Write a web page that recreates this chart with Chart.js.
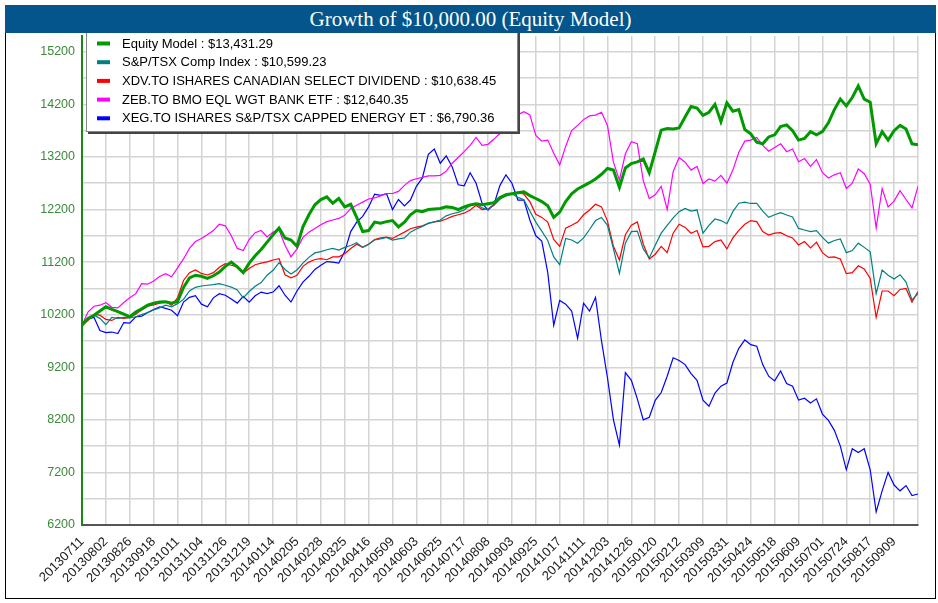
<!DOCTYPE html>
<html lang="en">
<head>
    <meta charset="UTF-8">
    <title>Growth of $10,000.00 (Equity Model)</title>
    <script src="https://cdn.jsdelivr.net/npm/chart.js"></script>
    <style>
        body {
            margin: 0;
            background: #fff;
            font-family: Arial, "Liberation Sans", sans-serif;
        }

        #wrap {
            position: relative;
            width: 938px;
            height: 603px;
        }

        /* thin black frame round the whole picture */
        #frame {
            position: absolute;
            left: 5px;
            top: 5px;
            width: 931px;
            height: 594px;
            border: 1px solid #000;
            border-top: none;
            box-sizing: border-box;
        }

        #title {
            position: absolute;
            left: 5px;
            top: 5px;
            width: 931px;
            height: 28px;
            background: #03558b;
            color: #fff;
            font-family: "Liberation Serif", "Times New Roman", serif;
            font-size: 21px;
            line-height: 28px;
            text-align: center;
            z-index: 2;
        }

        canvas {
            position: absolute;
            left: 0;
            top: 0;
        }
    </style>
</head>
<body>
    <div id="wrap">
        <canvas id="growth-chart" width="938" height="603"></canvas>
        <div id="frame"></div>
        <div id="title">Growth of $10,000.00 (Equity Model)</div>
    </div>

    <script>
        // one value every 4 trading days, starting 20130711
        const STEP = 4;
        const TICK_STEP = 16;

        const tickLabels = ['20130711', '20130802', '20130826', '20130918', '20131011', '20131104', '20131126',
            '20131219', '20140114', '20140205', '20140228', '20140325', '20140416', '20140509', '20140603',
            '20140625', '20140717', '20140808', '20140903', '20140925', '20141017', '20141111', '20141203',
            '20141226', '20150120', '20150212', '20150309', '20150331', '20150424', '20150518', '20150609',
            '20150701', '20150724', '20150817', '20150909'];

        const seriesNames = [
            'Equity Model : $13,431.29',
            'S&P/TSX Comp Index : $10,599.23',
            'XDV.TO ISHARES CANADIAN SELECT DIVIDEND : $10,638.45',
            'ZEB.TO BMO EQL WGT BANK ETF : $12,640.35',
            'XEG.TO ISHARES S&P/TSX CAPPED ENERGY ET : $6,790.36'
        ];

        const equityModel = [
            10000, 10130, 10190, 10270, 10350, 10300, 10260, 10210, 10160, 10250,
            10310, 10380, 10420, 10440, 10445, 10420, 10450, 10720, 10900, 10950,
            10930, 10890, 10940, 11010, 11120, 11200, 11110, 11000, 11180, 11320,
            11440, 11580, 11720, 11850, 11660, 11620, 11500, 11870, 12100, 12290,
            12390, 12440, 12320, 12410, 12250, 12300, 12050, 11780, 11800, 11960,
            11940, 11970, 11990, 11870, 11960, 12100, 12180, 12160, 12200, 12210,
            12220, 12250, 12240, 12200, 12250, 12285, 12310, 12290, 12310, 12330,
            12430, 12480, 12500, 12520, 12535, 12465, 12410, 12350, 12270, 12050,
            12150, 12350, 12500, 12590, 12650, 12710, 12780, 12870, 12980, 12950,
            12620, 12990, 13075, 13105, 13160, 12900, 13300, 13710, 13740, 13730,
            13750, 13960, 14160, 14130, 13990, 14050, 14200, 13870, 14230, 14070,
            14100, 13720, 13640, 13480, 13450, 13580, 13620, 13780, 13810, 13700,
            13520, 13550, 13680, 13620, 13680, 13850, 14100, 14300, 14170, 14330,
            14550, 14300, 14240, 13450, 13680, 13520, 13700, 13800, 13730, 13450,
            13431];

        const tsxComp = [
            10000, 10110, 10190, 10130, 10010, 10150, 10130, 10150, 10140, 10160,
            10200, 10240, 10290, 10330, 10380, 10350, 10410, 10490, 10650, 10720,
            10745, 10760, 10770, 10790, 10760, 10725, 10670, 10520, 10640, 10740,
            10810, 10950, 11045, 11190, 11060, 10975, 11050, 11180, 11290, 11375,
            11400, 11435, 11460, 11430, 11480, 11515, 11570, 11480, 11540, 11620,
            11640, 11670, 11620, 11640, 11660, 11770, 11830, 11880, 11940, 11965,
            12000, 12080, 12120, 12145, 12190, 12280, 12310, 12230, 12200, 12300,
            12400, 12460, 12500, 12430, 12385, 12170, 11960, 11790, 11610, 11300,
            11150, 11650, 11620, 11560, 11660, 11820, 11990, 12050, 11900, 11450,
            10985, 11560, 11780, 11790, 11450, 11280, 11520, 11750, 11900, 12040,
            12160, 12220, 12170, 12190, 11750, 11900, 12020, 11990, 11930, 12160,
            12320, 12340, 12315, 12315, 12170, 12050, 12100, 12140, 12095, 12060,
            11840, 11810, 11780, 11800, 11670, 11560, 11610, 11640, 11380, 11420,
            11560, 11480, 11395, 10600, 11050, 10950, 10880, 10960, 10820, 10480,
            10599];

        const xdv = [
            10000, 10090, 10200, 10190, 10110, 10090, 10150, 10130, 10150, 10210,
            10290, 10360, 10385, 10420, 10445, 10380, 10520, 10850, 11000, 11050,
            10985, 10955, 11000, 11100, 11170, 11140, 11110, 10990, 11080, 11150,
            11180, 11205, 11240, 11265, 10960, 10900, 10950, 11120, 11200, 11250,
            11265, 11245, 11300, 11300, 11360, 11460, 11540, 11480, 11540, 11630,
            11660, 11675, 11650, 11710, 11770, 11835, 11865, 11890, 11935, 11965,
            11980, 12020, 12070, 12100, 12130, 12190, 12280, 12200, 12210, 12280,
            12400, 12480, 12500, 12530, 12490, 12350, 12110, 12050, 11960, 11630,
            11500, 11845, 11900, 11960, 12100, 12190, 12300, 12250, 11980, 11500,
            11240, 11720, 11900, 11965, 11540, 11260, 11350, 11500, 11380, 11750,
            11920, 11860, 11750, 11800, 11490, 11500, 11590, 11620, 11450, 11660,
            11805, 11920, 11990, 11970, 11780, 11715, 11750, 11760, 11700, 11660,
            11525, 11590, 11470, 11580, 11380, 11290, 11300, 11260, 10980, 11000,
            11130, 11070, 10890, 10150, 10650, 10650, 10560, 10680, 10700, 10440,
            10638];

        const zeb = [
            10000, 10250, 10360, 10380, 10430, 10340, 10330, 10430, 10520, 10600,
            10790, 10780, 10840, 10925, 10980, 10920, 11090, 11260, 11460, 11590,
            11650, 11720, 11800, 11920, 11890, 11700, 11460, 11420, 11630, 11760,
            11800, 11680, 11770, 11810, 11520, 11300, 11450, 11670, 11770, 11840,
            11910, 11970, 12000, 12030, 12090, 12220, 12280, 12340, 12400, 12420,
            12460, 12505, 12505, 12545, 12660, 12750, 12785, 12810, 12840, 12840,
            12850, 12930, 13080, 13190, 13300, 13420, 13570, 13420, 13440, 13540,
            13650, 13800, 13920, 14000, 14060, 14000, 13610, 13500, 13520, 13270,
            13050, 13400, 13700, 13800, 13910, 13980, 13995, 14050, 13800, 13100,
            12760, 13260, 13490, 13450, 12750, 12410, 12480, 12640, 12200, 12920,
            13190, 13100, 12950, 13020, 12695, 12780, 12740, 12850, 12700, 12950,
            13290, 13500, 13520, 13570, 13420, 13310, 13380, 13450, 13300, 13350,
            13110, 13170, 13020, 13150, 12900, 12800, 12860, 12900, 12600, 12700,
            12970, 12880, 12680, 11850, 12600, 12250, 12360, 12560, 12390, 12230,
            12640];

        const xeg = [
            10000, 10120, 10150, 9900, 9860, 9870, 9840, 10050, 10040, 10160,
            10170, 10240, 10300, 10350, 10320, 10285, 10180, 10440, 10530, 10560,
            10400, 10350, 10520, 10600, 10570, 10500, 10420, 10550, 10440, 10560,
            10630, 10600, 10630, 10750, 10570, 10440, 10650, 10820, 10930, 11060,
            11140, 11210, 11200, 11180, 11400, 11780, 11960, 12070, 12250, 12490,
            12470, 12500, 12200, 12390, 12270, 12380, 12640, 12800, 13250, 13350,
            13080, 13220, 13010, 12670, 12650, 12900, 12700, 12320, 12190, 12300,
            12660, 12860, 12700, 12380, 12380, 12000, 11700, 11600, 11000, 10000,
            10470, 10400, 10270, 9750, 10420, 10270, 10530, 9700, 9000, 8200,
            7720, 9100, 8950, 8600, 8200, 8250, 8570, 8720, 9030, 9380,
            9330, 9250, 9080, 8950, 8575, 8460, 8710, 8840, 8900, 9290,
            9560, 9720, 9630, 9600, 9250, 9030, 8940, 9130, 8890, 8840,
            8575, 8610, 8520, 8600, 8310, 8190, 8000, 7700, 7250, 7650,
            7580, 7650, 7250, 6450, 6850, 7200, 6960, 6850, 6950, 6760,
            6790];

        const seriesValues = [equityModel, tsxComp, xdv, zeb, xeg];
        const seriesColors = ['#009a00', '#008080', '#ff0000', '#ff00ff', '#0000ff'];
        const seriesWidths = [3, 1.2, 1.2, 1.2, 1.2];

        function toPoints(values) {
            return values.map((v, i) => ({ x: i * STEP, y: v }));
        }

        // legend box drawn over the top left of the plot
        const legendBox = {
            id: 'legendBox',
            afterDraw(chart) {
                const ctx = chart.ctx;
                const left = chart.chartArea.left + 4;
                const top = 28;
                const width = 432;
                const height = 104;
                ctx.save();
                ctx.fillStyle = '#444';
                ctx.fillRect(left + 2, top + 2, width, height);
                ctx.fillStyle = '#fff';
                ctx.fillRect(left, top, width, height);
                ctx.strokeStyle = '#888';
                ctx.lineWidth = 1;
                ctx.strokeRect(left + 0.5, top + 0.5, width - 1, height - 1);

                ctx.font = '13px Arial, "Liberation Sans", sans-serif';
                ctx.textBaseline = 'middle';
                chart.data.datasets.forEach((ds, i) => {
                    const y = 43.5 + i * 18.7;
                    ctx.fillStyle = ds.borderColor;
                    ctx.fillRect(left + 11, y - 2, 13, 4);
                    ctx.fillStyle = '#000';
                    ctx.fillText(ds.label, left + 36, y + 0.5);
                });
                ctx.restore();
            }
        };

        const ctx = document.getElementById('growth-chart').getContext('2d');
        new Chart(ctx, {
            type: 'line',
            data: {
                datasets: seriesNames.map((name, i) => ({
                    label: name,
                    data: toPoints(seriesValues[i]),
                    borderColor: seriesColors[i],
                    backgroundColor: seriesColors[i],
                    borderWidth: seriesWidths[i],
                    pointRadius: 0,
                    tension: 0,
                    fill: false
                }))
            },
            options: {
                responsive: false,
                animation: false,
                events: [],
                layout: { padding: { top: 36, right: 6, bottom: 0, left: 0 } },
                plugins: {
                    legend: { display: false },
                    title: { display: false },
                    tooltip: { enabled: false }
                },
                scales: {
                    x: {
                        type: 'linear',
                        min: 0,
                        max: tickLabels.length * TICK_STEP,
                        afterBuildTicks: axis => {
                            axis.ticks = [];
                            for (let i = 0; i <= tickLabels.length; i++) {
                                axis.ticks.push({ value: i * TICK_STEP });
                            }
                        },
                        afterFit: scale => { scale.height = 78; },
                        ticks: {
                            autoSkip: false,
                            minRotation: 45,
                            maxRotation: 45,
                            padding: 9,
                            color: '#1a1a1a',
                            font: { family: 'Arial, "Liberation Sans", sans-serif', size: 13 },
                            callback: value => tickLabels[Math.round(value / TICK_STEP)] || ''
                        },
                        grid: { color: '#d4d4d4', lineWidth: 1.5, drawTicks: false },
                        border: { color: '#555', width: 2 }
                    },
                    y: {
                        min: 6200,
                        max: 15500,
                        afterBuildTicks: axis => {
                            axis.ticks = [];
                            for (let v = 6200; v <= 15200; v += 500) {
                                axis.ticks.push({ value: v });
                            }
                        },
                        afterFit: scale => { scale.width = 82; },
                        ticks: {
                            padding: 7,
                            color: '#3b8a3b',
                            font: { family: 'Arial, "Liberation Sans", sans-serif', size: 12.5 },
                            callback: value => ((value - 6200) % 1000 === 0 ? String(value) : '')
                        },
                        grid: { color: '#d4d4d4', lineWidth: 1.5, drawTicks: false },
                        border: { color: '#168a16', width: 2 }
                    }
                }
            },
            plugins: [legendBox]
        });
    </script>
</body>
</html>
